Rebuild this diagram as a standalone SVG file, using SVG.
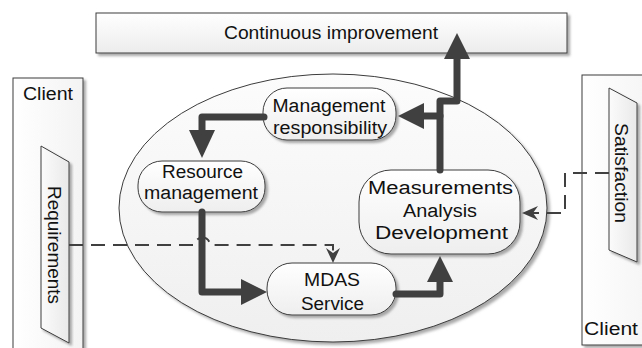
<svg xmlns="http://www.w3.org/2000/svg" width="642" height="348" viewBox="0 0 642 348">
  <defs>
    <linearGradient id="gBar" x1="0" y1="0" x2="0" y2="1">
      <stop offset="0" stop-color="#ffffff"/>
      <stop offset="1" stop-color="#ececec"/>
    </linearGradient>
    <linearGradient id="gNode" x1="0" y1="0" x2="0" y2="1">
      <stop offset="0" stop-color="#ffffff"/>
      <stop offset="1" stop-color="#eeeeee"/>
    </linearGradient>
    <linearGradient id="gScope" x1="0" y1="0" x2="0" y2="1">
      <stop offset="0" stop-color="#fcfcfc"/>
      <stop offset="1" stop-color="#efefef"/>
    </linearGradient>
    <linearGradient id="gPanel" x1="0" y1="0" x2="1" y2="0">
      <stop offset="0" stop-color="#ffffff"/>
      <stop offset="1" stop-color="#f3f3f3"/>
    </linearGradient>
    <linearGradient id="gTag" x1="0" y1="0" x2="1" y2="0">
      <stop offset="0" stop-color="#fbfbfb"/>
      <stop offset="1" stop-color="#e9e9e9"/>
    </linearGradient>
    <filter id="shadow" x="-10%" y="-10%" width="125%" height="125%">
      <feDropShadow dx="2.5" dy="2.5" stdDeviation="1.2" flood-color="#8c8c8c" flood-opacity="0.75"/>
    </filter>
    <filter id="soft" x="-5%" y="-5%" width="110%" height="110%">
      <feGaussianBlur stdDeviation="1.5"/>
    </filter>
  </defs>
  <style>
    .outline { stroke: #3c3c3c; stroke-width: 1; }
    .label { font-family: "Liberation Sans", Arial, sans-serif; font-size: 18px; fill: #111111; text-anchor: middle; }
    .flow { fill: none; stroke: #404040; stroke-width: 7; stroke-linecap: round; stroke-linejoin: round; }
    .head { fill: #404040; stroke: none; }
    .dash { fill: none; stroke: #404040; stroke-width: 2; stroke-dasharray: 14 8; }
  </style>

  <!-- Client panel, left -->
  <g id="client-left">
    <rect x="13" y="78" width="70" height="290" fill="url(#gPanel)" class="outline" filter="url(#shadow)"/>
    <text class="label" x="48" y="100" textLength="50" lengthAdjust="spacingAndGlyphs">Client</text>
    <polygon points="41,146 69,162 69,343 41,328" fill="url(#gTag)" class="outline" filter="url(#shadow)"/>
    <text class="label" transform="translate(48,245) rotate(90)" x="0" y="0" textLength="118" lengthAdjust="spacingAndGlyphs">Requirements</text>
  </g>

  <!-- Client panel, right -->
  <g id="client-right">
    <rect x="582" y="75" width="80" height="270" fill="url(#gPanel)" class="outline" filter="url(#shadow)"/>
    <polygon points="609,88 637,103 637,262 609,250" fill="url(#gTag)" class="outline" filter="url(#shadow)"/>
    <text class="label" transform="translate(615,173) rotate(90)" x="0" y="0" textLength="100" lengthAdjust="spacingAndGlyphs">Satisfaction</text>
    <text class="label" x="611" y="335" textLength="54" lengthAdjust="spacingAndGlyphs">Client</text>
  </g>

  <!-- Continuous improvement bar -->
  <g id="continuous-improvement">
    <rect x="96" y="13" width="471" height="40" fill="url(#gBar)" class="outline" filter="url(#shadow)"/>
    <text class="label" x="331" y="39" textLength="214" lengthAdjust="spacingAndGlyphs">Continuous improvement</text>
  </g>

  <!-- Process scope: soft shadow, then the ellipse itself -->
  <g id="scope">
    <ellipse cx="336" cy="211" rx="214" ry="134" fill="#a8a8a8" filter="url(#soft)"/>
    <ellipse cx="333" cy="208" rx="214" ry="134" fill="url(#gScope)" class="outline"/>
  </g>

  <g id="management-responsibility">
    <rect x="263" y="88" width="133" height="52" rx="24" ry="24" fill="url(#gNode)" class="outline" filter="url(#shadow)"/>
    <text class="label" x="329" y="112" textLength="113" lengthAdjust="spacingAndGlyphs">Management</text>
    <text class="label" x="330" y="134" textLength="114" lengthAdjust="spacingAndGlyphs">responsibility</text>
  </g>

  <g id="resource-management">
    <rect x="138" y="161" width="127" height="51" rx="24" ry="24" fill="url(#gNode)" class="outline" filter="url(#shadow)"/>
    <text class="label" x="202.5" y="178" textLength="81" lengthAdjust="spacingAndGlyphs">Resource</text>
    <text class="label" x="201" y="199" textLength="114" lengthAdjust="spacingAndGlyphs">management</text>
  </g>

  <g id="mdas-service">
    <rect x="267" y="263" width="129" height="52" rx="25" ry="25" fill="url(#gNode)" class="outline" filter="url(#shadow)"/>
    <text class="label" x="332" y="286" textLength="56" lengthAdjust="spacingAndGlyphs">MDAS</text>
    <text class="label" x="332.5" y="310" textLength="63" lengthAdjust="spacingAndGlyphs">Service</text>
  </g>

  <g id="measurements">
    <rect x="359" y="170" width="161" height="84" rx="32" ry="32" fill="url(#gNode)" class="outline" filter="url(#shadow)"/>
    <text class="label" x="440.5" y="194" textLength="145" lengthAdjust="spacingAndGlyphs">Measurements</text>
    <text class="label" x="440" y="217" textLength="74" lengthAdjust="spacingAndGlyphs">Analysis</text>
    <text class="label" x="441.5" y="239" textLength="133" lengthAdjust="spacingAndGlyphs">Development</text>
  </g>

  <!-- Connectors -->
  <g id="connectors">
    <!-- management -> resources -->
    <path class="flow" d="M264,117 H202 V131"/>
    <polygon class="head" points="189,130 215,130 202,158"/>
    <!-- resources -> service -->
    <path class="flow" d="M202,212 V292 H242"/>
    <polygon class="head" points="241,279 241,305 267,292"/>
    <!-- service -> measurements -->
    <path class="flow" d="M396,294 H440 V282"/>
    <polygon class="head" points="427,282 453,282 440,256"/>
    <!-- measurements -> improvement / management -->
    <path class="flow" d="M440,170 V101 H457 V59"/>
    <path class="flow" d="M440,116 H424"/>
    <polygon class="head" points="424,103 424,129 398,116"/>
    <polygon class="head" points="444,59 470,59 457,33"/>

    <!-- requirements -> service (jumps the resources flow) -->
    <path class="dash" d="M69,245 H195 A7.5,7.5 0 0 1 210,245 H333 V253"/>
    <polygon class="head" points="326,248 333,253 340,248 333,263"/>
    <!-- satisfaction -> measurements -->
    <path class="dash" d="M609,173 H565 V213 H533"/>
    <polygon class="head" points="538,206 533,213 538,220 522,213"/>
  </g>
</svg>
